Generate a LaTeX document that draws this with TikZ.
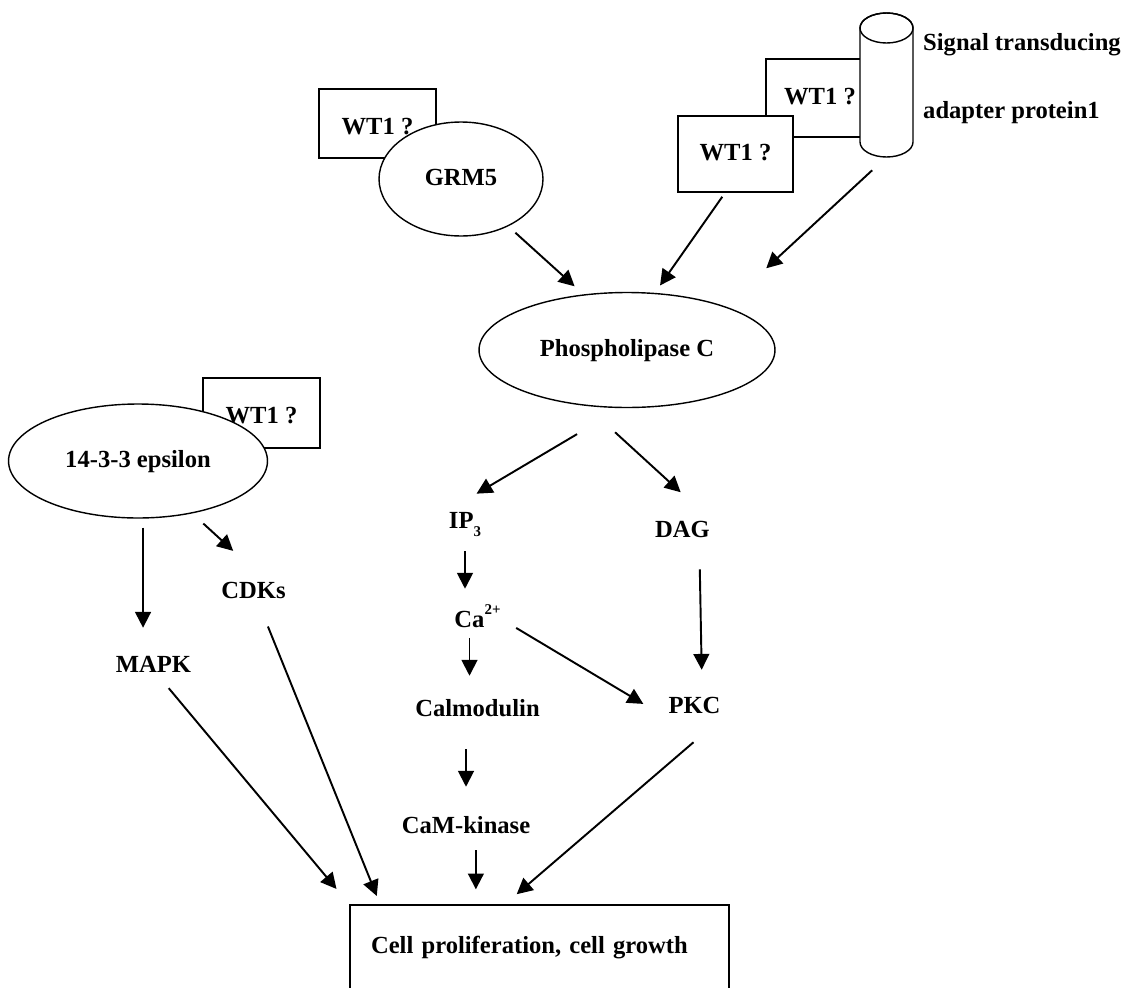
\documentclass[tikz,border=0pt]{standalone}
\usepackage{fontspec}
\setmainfont{Liberation Serif}
\usetikzlibrary{shapes.geometric,arrows.meta}

\begin{document}
\begin{tikzpicture}[x=0.02cm, y=-0.02cm,
    font=\fontsize{14}{17}\selectfont\bfseries,
    lbl/.style={inner sep=0pt, text height=10pt, text depth=3pt},
    prot/.style={ellipse, draw, line width=0.8pt, fill=white, inner sep=0pt, text height=10pt, text depth=3pt},
    wtbox/.style={rectangle, draw, line width=0.8pt, fill=white, inner sep=0pt, text height=10pt, text depth=3pt},
    arr/.style={line width=1.1pt, -{Triangle[length=9pt, width=9pt]}}]

    \clip (0,0) rectangle (1135,987);

    % GRM5 with WT1
    \node[wtbox, text height=16pt, minimum width=2.34cm, minimum height=1.38cm] (grmwt) at (377.5,123.5) {WT1 ?};
    \node[prot, minimum width=3.28cm, minimum height=2.28cm] (grm5) at (461,179) {GRM5};

    % Signal transducing adapter protein1 with WT1
    \node[wtbox, minimum width=2.16cm, minimum height=1.56cm] (sapwt) at (820,98) {WT1 ?};
    \filldraw[fill=white, line width=0.8pt] (860,28) -- (860,142)
        arc[start angle=180, end angle=0, x radius=26.5, y radius=15] -- (913,28)
        arc[start angle=0, end angle=-180, x radius=26.5, y radius=15] -- cycle;
    \draw[line width=0.8pt] (886.5,28) ellipse [x radius=26.5, y radius=15];
    \coordinate (sapbot) at (886.5,157);
    \node[wtbox, minimum width=2.3cm, minimum height=1.52cm] (wtb) at (735.5,154) {WT1 ?};
    \node[anchor=base west, align=left, font=\fontsize{14}{38.7}\selectfont\bfseries] (sap) at (917,118) {Signal transducing\\adapter protein1};

    % Phospholipase C
    \node[prot, minimum width=5.92cm, minimum height=2.3cm] (plc) at (627,350) {Phospholipase C};

    % 14-3-3 epsilon with WT1
    \node[wtbox, text height=15pt, minimum width=2.34cm, minimum height=1.4cm] (epswt) at (261.5,413) {WT1 ?};
    \node[prot, minimum width=5.18cm, minimum height=2.28cm] (eps) at (138,461) {14-3-3 epsilon};

    % second messengers and kinases
    \node[lbl] (ip3) at (465,522) {IP\raisebox{-5pt}{\fontsize{8.5}{10}\selectfont 3}};
    \node[lbl] (dag) at (682.5,531) {DAG};
    \node[lbl] (ca) at (469.5,621) {Ca\rlap{\raisebox{7pt}{\fontsize{8.5}{10}\selectfont 2+}}};
    \node[lbl] (calm) at (477.5,710) {Calmodulin};
    \node[lbl] (pkc) at (694.5,707) {PKC};
    \node[lbl] (camk) at (466,827) {CaM-kinase};
    \node[lbl] (mapk) at (153.5,666) {MAPK};
    \node[lbl] (cdks) at (253.5,592) {CDKs};

    % Cell proliferation
    \node[draw, line width=0.8pt, minimum width=7.58cm, minimum height=1.68cm, text width=6.74cm,
        inner xsep=0.42cm, inner ysep=0pt, align=left, text height=10pt, text depth=3pt] (cell) at (539.5,947) {Cell proliferation, cell growth};

    % arrows
    \draw[arr, shorten <=0.19cm, shorten >=0.24cm] (grm5.-45) -- (plc.128);
    \draw[arr, shorten <=0.1cm, shorten >=0.18cm] (wtb.-105) -- (plc.64);
    \draw[arr, shorten <=0.39cm, shorten >=1.12cm] (sapbot) -- (plc.24);
    \draw[arr, shorten <=1.02cm, shorten >=0.65cm] (plc.-96) -- (ip3.north west);
    \draw[arr, shorten <=0.78cm, shorten >=0.8cm] (plc.-126) -- (dag.north east);
    \draw[arr, shorten <=0.35cm, shorten >=0.41cm] (ip3.south) -- (ip3.south |- ca.north);
    \draw[arr, shorten <=0.1cm, shorten >=0.45cm] (ca.south) -- (ca.south |- calm.north);
    \draw[arr, shorten <=0.73cm, shorten >=0.58cm] (ca.north east) -- (pkc.south west);
    \draw[arr, shorten <=0.53cm, shorten >=0.51cm] (dag.-35) -- (pkc.57);
    \draw[arr, shorten <=0.55cm, shorten >=0.57cm] (camk.north |- calm.south) -- (camk.north);
    \draw[arr, shorten <=0.23cm, shorten >=0.3cm] (camk.-50) -- (camk.-50 |- cell.north);
    \draw[arr, shorten <=0.72cm, shorten >=0.31cm] (pkc.south east) -- (cell.129);
    \draw[arr, shorten <=0.18cm, shorten >=0.53cm] (eps.-85) -- (eps.-85 |- mapk.north);
    \draw[arr, shorten <=0.3cm, shorten >=0.87cm] (eps.-44) -- (cdks.45);
    \draw[arr, shorten <=0.49cm, shorten >=0.18cm] (cdks.-66) -- (cell.165);
    \draw[arr, shorten <=0.27cm, shorten >=0.4cm] (mapk.-61) -- (cell.north west);

\end{tikzpicture}
\end{document}
